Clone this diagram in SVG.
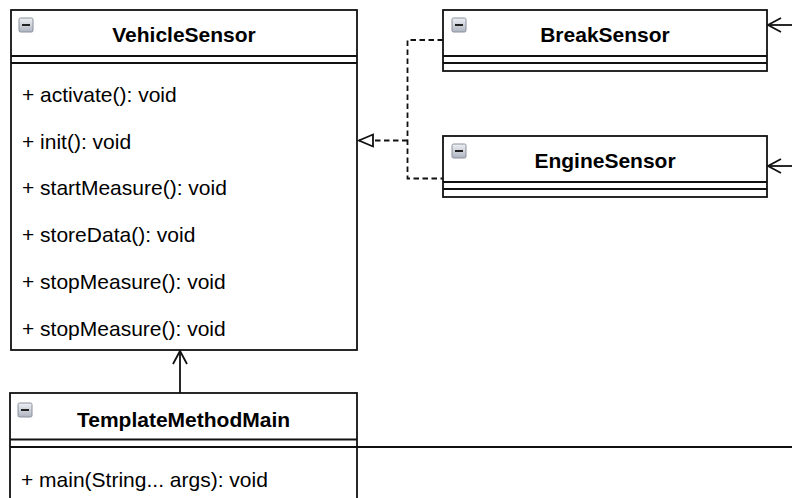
<svg xmlns="http://www.w3.org/2000/svg" width="792" height="498" viewBox="0 0 792 498">
<style>
.box{fill:#fff;stroke:#111;stroke-width:1.8}
.ln{stroke:#111;stroke-width:1.8;fill:none}
.title{font-family:"Liberation Sans",Arial,sans-serif;font-size:21px;font-weight:bold;fill:#000;text-anchor:middle}
.item{font-family:"Liberation Sans",Arial,sans-serif;font-size:21px;fill:#000}
.dash{stroke:#111;stroke-width:1.8;fill:none;stroke-dasharray:5.5 3.5}
</style>
<defs>
<linearGradient id="ig" x1="0" y1="0" x2="0" y2="1">
<stop offset="0" stop-color="#eef0f4"/>
<stop offset="1" stop-color="#aeb4c0"/>
</linearGradient>
<g id="icon">
<rect x="0" y="0" width="14" height="14" rx="1.5" fill="url(#ig)" stroke="#8a909c" stroke-width="1"/>
<line x1="3" y1="7" x2="11" y2="7" stroke="#222" stroke-width="2"/>
</g>
<marker id="open" markerWidth="16" markerHeight="16" refX="14" refY="8" orient="auto" markerUnits="userSpaceOnUse">
<path d="M1,1 L14,8 L1,15" fill="none" stroke="#111" stroke-width="1.8"/>
</marker>
<marker id="tri" markerWidth="18" markerHeight="16" refX="15" refY="8" orient="auto" markerUnits="userSpaceOnUse">
<path d="M1,2 L15,8 L1,14 Z" fill="#fff" stroke="#111" stroke-width="1.8"/>
</marker>
</defs>

<g id="connectors">
<line class="ln" x1="180" y1="393" x2="180" y2="351" marker-end="url(#open)"/>
<line class="ln" x1="357" y1="447" x2="792" y2="447"/>
<line class="ln" x1="792" y1="25" x2="768" y2="25" marker-end="url(#open)"/>
<line class="ln" x1="792" y1="166" x2="768" y2="166" marker-end="url(#open)"/>
<polyline class="dash" points="443,40 407.5,40 407.5,178.5 443,178.5"/>
<line class="dash" x1="407.5" y1="140.5" x2="359" y2="140.5" marker-end="url(#tri)"/>
</g>

<g id="VehicleSensor">
<rect class="box" x="11" y="10" width="346" height="340"/>
<line class="ln" x1="11" y1="56" x2="357" y2="56"/>
<line class="ln" x1="11" y1="63" x2="357" y2="63"/>
<use href="#icon" x="19" y="18"/>
<text class="title" x="184" y="41.5">VehicleSensor</text>
<text class="item" x="22" y="102">+ activate(): void</text>
<text class="item" x="22" y="148.7">+ init(): void</text>
<text class="item" x="22" y="195.4">+ startMeasure(): void</text>
<text class="item" x="22" y="242.1">+ storeData(): void</text>
<text class="item" x="22" y="288.8">+ stopMeasure(): void</text>
<text class="item" x="22" y="335.5">+ stopMeasure(): void</text>
</g>

<g id="BreakSensor">
<rect class="box" x="443" y="10" width="324" height="61"/>
<line class="ln" x1="443" y1="56" x2="767" y2="56"/>
<line class="ln" x1="443" y1="63" x2="767" y2="63"/>
<use href="#icon" x="452" y="18"/>
<text class="title" x="605" y="42">BreakSensor</text>
</g>

<g id="EngineSensor">
<rect class="box" x="443" y="136" width="324" height="61"/>
<line class="ln" x1="443" y1="182" x2="767" y2="182"/>
<line class="ln" x1="443" y1="189" x2="767" y2="189"/>
<use href="#icon" x="452" y="144"/>
<text class="title" x="605" y="167.5">EngineSensor</text>
</g>

<g id="TemplateMethodMain">
<rect class="box" x="10" y="393" width="347" height="140"/>
<line class="ln" x1="10" y1="439.5" x2="357" y2="439.5"/>
<line class="ln" x1="10" y1="447" x2="357" y2="447"/>
<use href="#icon" x="18" y="403"/>
<text class="title" x="183.5" y="426.5">TemplateMethodMain</text>
<text class="item" x="21" y="487">+ main(String... args): void</text>
</g>
</svg>
